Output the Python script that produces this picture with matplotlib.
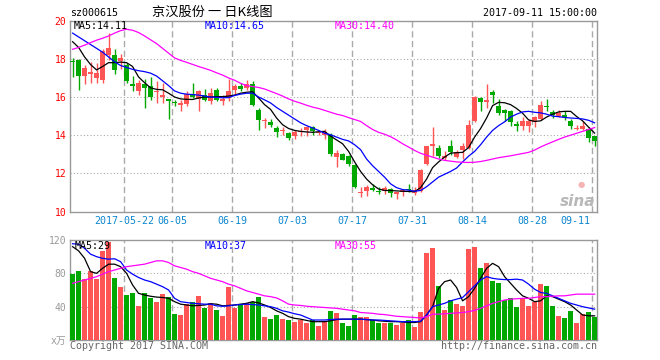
import matplotlib
matplotlib.use('Agg')
import matplotlib.pyplot as plt
import matplotlib.transforms as mtransforms
import numpy as np

# 日K数据 (京汉股份 sz000615)
opens = [17.87, 17.92, 17.10, 17.22, 17.01, 16.89, 18.18, 18.18, 17.87, 17.66,
         16.69, 16.31, 16.66, 16.57, 16.28, 16.00, 15.90, 15.72, 15.57, 15.66,
         16.18, 15.90, 16.13, 15.78, 16.39, 15.78, 15.95, 16.36, 16.57, 16.48,
         16.66, 15.34, 14.75, 14.71, 14.38, 14.20, 14.11, 13.94, 14.18, 14.25,
         14.43, 14.13, 14.03, 14.03, 12.85, 13.01, 12.89, 12.45, 10.97, 11.10,
         11.22, 11.05, 11.10, 11.17, 10.94, 11.04, 11.15, 10.99, 11.10, 12.50,
         13.45, 13.32, 12.78, 13.45, 12.85, 13.20, 13.32, 14.73, 15.96, 15.73,
         16.25, 15.55, 15.31, 15.25, 14.52, 14.50, 14.50, 14.68, 14.85, 15.55,
         15.20, 15.03, 15.08, 14.76, 14.33, 14.33, 14.33, 13.94]
highs = [18.03, 18.00, 17.68, 17.83, 17.80, 18.50, 19.38, 18.53, 18.24, 17.80,
         17.10, 16.89, 16.96, 17.06, 16.83, 16.75, 15.92, 15.83, 15.86, 16.31,
         16.75, 16.39, 16.40, 16.48, 16.45, 16.10, 16.96, 16.66, 16.75, 16.89,
         16.83, 15.43, 14.90, 14.85, 14.46, 14.43, 14.18, 14.29, 14.38, 14.50,
         14.50, 14.29, 14.32, 14.11, 13.20, 13.06, 12.97, 12.50, 11.31, 11.39,
         11.45, 11.31, 11.34, 11.22, 11.04, 11.17, 11.45, 11.27, 12.22, 13.45,
         14.43, 13.50, 13.15, 13.73, 13.20, 13.59, 14.78, 16.05, 16.01, 16.66,
         16.39, 15.90, 15.38, 15.31, 14.73, 14.96, 14.85, 15.03, 15.78, 15.90,
         15.31, 15.31, 15.25, 14.85, 14.55, 14.76, 14.43, 13.97]
lows = [17.04, 16.36, 16.69, 16.75, 16.75, 16.75, 17.94, 17.20, 17.45, 16.71,
        16.31, 16.08, 15.43, 15.83, 15.69, 15.69, 14.85, 15.52, 15.29, 15.52,
        15.95, 15.25, 15.78, 15.66, 15.78, 15.60, 15.78, 16.18, 16.31, 16.39,
        15.52, 14.29, 14.38, 14.43, 13.90, 14.03, 13.73, 13.80, 13.97, 13.97,
        14.03, 14.03, 13.80, 12.89, 12.32, 12.68, 12.39, 11.22, 10.78, 10.83,
        11.10, 10.92, 10.92, 10.78, 10.66, 10.82, 11.00, 10.87, 11.04, 12.45,
        12.92, 12.80, 12.68, 12.97, 12.80, 12.75, 13.27, 14.68, 15.25, 15.43,
        15.70, 15.08, 14.73, 14.47, 14.20, 14.25, 14.15, 14.43, 14.82, 15.25,
        14.90, 14.96, 14.80, 14.33, 14.25, 14.25, 13.62, 13.45]
closes = [17.85, 17.10, 17.50, 17.32, 17.27, 18.39, 18.59, 17.41, 18.06, 16.83,
          16.59, 16.75, 16.45, 16.01, 16.33, 16.08, 15.78, 15.69, 15.69, 16.18,
          16.01, 16.31, 15.87, 16.22, 15.82, 15.90, 16.34, 16.57, 16.43, 16.66,
          15.57, 14.78, 14.82, 14.54, 14.15, 14.25, 13.87, 14.15, 14.22, 14.43,
          14.20, 14.15, 14.18, 13.03, 13.06, 12.71, 12.50, 11.27, 11.00, 11.31,
          11.13, 11.03, 11.24, 10.96, 10.97, 11.13, 11.13, 11.12, 12.19, 13.41,
          13.55, 12.92, 12.92, 13.10, 13.10, 13.41, 14.55, 16.00, 15.73, 15.87,
          16.10, 15.17, 15.17, 14.68, 14.50, 14.73, 14.73, 14.96, 15.60, 15.46,
          15.08, 15.17, 14.96, 14.50, 14.38, 14.50, 13.85, 13.68]

# 价格均线
ma5 = [18.90, 18.60, 18.10, 17.70, 17.42, 17.60, 17.80, 17.80, 17.83, 17.80,
       17.60, 17.05, 16.75, 16.48, 16.40, 16.38, 16.20, 16.00, 15.90, 15.88,
       15.87, 15.95, 16.00, 16.00, 16.02, 16.02, 16.05, 16.10, 16.20, 16.25,
       16.28, 15.95, 15.60, 15.35, 14.90, 14.55, 14.35, 14.25, 14.20, 14.17,
       14.15, 14.18, 14.20, 13.95, 13.75, 13.55, 13.15, 12.60, 12.10, 11.70,
       11.40, 11.18, 11.10, 11.10, 11.08, 11.06, 11.05, 11.04, 11.25, 11.70,
       12.30, 12.60, 12.85, 13.06, 13.08, 13.10, 13.35, 13.90, 14.35, 14.90,
       15.55, 15.72, 15.70, 15.60, 15.40, 15.15, 14.80, 14.72, 14.75, 14.95,
       15.10, 15.22, 15.25, 15.25, 14.98, 14.75, 14.42, 14.11]
ma10 = [19.35, 19.15, 18.95, 18.75, 18.55, 18.35, 18.10, 17.85, 17.65, 17.55,
        17.45, 17.38, 17.33, 17.25, 17.10, 16.85, 16.60, 16.32, 16.20, 16.15,
        16.13, 16.10, 16.05, 16.00, 15.98, 15.96, 15.97, 16.08, 16.15, 16.20,
        16.20, 16.00, 15.85, 15.69, 15.45, 15.25, 15.05, 14.85, 14.65, 14.50,
        14.38, 14.25, 14.10, 14.02, 13.90, 13.78, 13.70, 13.50, 13.24, 12.75,
        12.40, 12.10, 11.80, 11.45, 11.25, 11.15, 11.12, 11.06, 11.10, 11.30,
        11.55, 11.80, 11.95, 12.10, 12.28, 12.60, 12.90, 13.15, 13.50, 13.90,
        14.25, 14.50, 14.70, 14.95, 15.10, 15.22, 15.25, 15.20, 15.17, 15.10,
        15.00, 14.97, 14.93, 14.90, 14.88, 14.85, 14.78, 14.65]
ma30 = [18.50, 18.60, 18.72, 18.85, 18.98, 19.08, 19.20, 19.35, 19.48, 19.55,
        19.50, 19.38, 19.20, 19.00, 18.80, 18.55, 18.30, 18.05, 17.92, 17.82,
        17.71, 17.60, 17.50, 17.40, 17.27, 17.15, 17.00, 16.88, 16.72, 16.60,
        16.55, 16.50, 16.42, 16.30, 16.18, 16.05, 15.90, 15.78, 15.68, 15.57,
        15.47, 15.40, 15.30, 15.20, 15.10, 15.03, 14.92, 14.82, 14.72, 14.50,
        14.30, 14.15, 14.05, 13.92, 13.75, 13.55, 13.38, 13.20, 13.05, 12.95,
        12.85, 12.75, 12.68, 12.64, 12.60, 12.58, 12.57, 12.58, 12.62, 12.68,
        12.75, 12.82, 12.87, 12.92, 12.98, 13.04, 13.10, 13.22, 13.38, 13.52,
        13.65, 13.78, 13.90, 14.00, 14.10, 14.20, 14.30, 14.40]

# 成交量 (万手)
volume = [79.2, 82.8, 72.8, 82.8, 73.2, 106.8, 118.0, 74.8, 64.0, 54.0,
          56.4, 41.2, 56.4, 50.8, 46.0, 55.2, 52.0, 31.2, 30.0, 42.8,
          45.2, 53.2, 38.8, 44.0, 36.0, 29.2, 64.0, 38.8, 42.0, 44.0,
          46.0, 52.0, 28.0, 25.2, 30.0, 25.0, 24.0, 22.0, 24.0, 21.0,
          24.0, 17.0, 23.0, 35.0, 33.0, 21.0, 17.0, 30.0, 28.0, 28.0,
          24.0, 21.0, 21.0, 21.0, 18.0, 20.0, 24.0, 16.0, 34.0, 104.8,
          110.8, 64.8, 36.0, 48.0, 43.2, 41.2, 109.2, 112.0, 86.0, 92.8,
          70.8, 68.8, 48.0, 50.8, 40.0, 50.8, 41.2, 45.2, 67.2, 64.8,
          41.2, 29.2, 26.8, 34.8, 20.8, 30.8, 33.2, 28.0]
vma5 = [112, 107, 98, 82, 80, 86, 91, 91, 88, 80,
        66, 56, 54, 52.5, 51.5, 51, 50, 46, 43, 42,
        41, 41.5, 42, 43.5, 43, 41, 41.5, 42, 43, 44,
        46, 44.5, 42, 39, 35, 32, 28, 26, 25, 23.5,
        22, 22, 22, 23, 24.5, 25, 25, 25, 25, 24.5,
        24, 23, 22.5, 22, 22, 21.5, 21, 21, 22, 30,
        40, 62, 70, 72, 63, 47, 52, 62, 74, 86,
        92, 88, 76, 68, 60, 53, 50, 46, 47, 53,
        52, 49, 46, 42, 36, 30, 29, 29]
vma10 = [115.5, 115, 110, 103, 100, 98, 97, 97.5, 94, 84,
         79, 75, 72, 70, 67, 64, 60, 50, 46, 45,
         44, 43.5, 43, 43, 41, 40.5, 41, 42, 42.5, 43,
         42.5, 42, 41, 40, 38, 35, 33.5, 31.5, 30, 27,
         24, 24, 24, 24.5, 25, 25, 25, 25, 25, 24.5,
         24, 24, 23.5, 23, 22.5, 22, 22, 22, 22.5, 30,
         40, 42, 44, 47, 49, 51, 58, 65, 72, 76,
         74, 73, 72.5, 72.5, 73, 72, 67, 61, 57, 56,
         53, 50, 47, 44, 42, 40, 38.5, 37]
vma30 = [68, 70, 72, 74, 76, 79, 82, 84, 86, 88,
         89, 90, 91, 93, 95, 95, 93, 89, 87, 85,
         82, 80, 77, 74, 72, 70, 67, 65, 62, 59,
         57, 55, 53, 52, 50.5, 47, 43, 42, 41.5, 40.5,
         40, 39.5, 39, 38.5, 38, 37, 36, 35, 33, 32.5,
         32, 31, 30.5, 29.5, 28.5, 28, 27.5, 27, 26.5, 28,
         31, 31, 31.5, 32, 32.5, 33, 34, 35.5, 38, 41,
         44, 46, 48, 49, 49.5, 50, 50, 51, 52, 52,
         52.5, 53, 53, 54, 55, 55, 55, 55]

tick_idx = [9, 17, 27, 37, 47, 57, 67, 77, 87]
tick_labels = ['2017-05-22', '06-05', '06-19', '07-03', '07-17', '07-31', '08-14', '08-28', '09-11']

RED = '#ff5555'
GREEN = '#00a800'
GRID = '#aaaaaa'
plt.rcParams['font.family'] = ['DejaVu Sans Mono', 'Noto Sans CJK SC']

W, H = 660, 360
fig = plt.figure(figsize=(6.6, 3.6), dpi=100)


def box(x0, y0, x1, y1):
    return [x0 / W, 1 - y1 / H, (x1 - x0) / W, (y1 - y0) / H]


def px(x, y):
    return x / W, 1 - y / H


ax = fig.add_axes(box(70.3, 20.7, 597.3, 211.5))
axv = fig.add_axes(box(70.3, 240, 597.3, 340))

x = np.arange(len(closes))
o = np.array(opens)
c = np.array(closes)
col = np.where(c >= o, RED, GREEN)

# K线
ax.vlines(x, lows, highs, colors=col, lw=1.0, zorder=3)
body_lo = np.minimum(o, c)
body_h = np.maximum(np.abs(c - o), 0.06)
ax.bar(x, body_h, 0.8, bottom=body_lo, color=col, linewidth=0, zorder=3)
ax.plot(x, ma5, color='black', lw=0.9, zorder=4)
ax.plot(x, ma10, color='#0000ff', lw=0.9, zorder=4)
ax.plot(x, ma30, color='#ff00ff', lw=0.9, zorder=4)

# 成交量
axv.bar(x, volume, 0.8, color=col, linewidth=0, zorder=3)
axv.plot(x, vma5, color='black', lw=0.9, zorder=4)
axv.plot(x, vma10, color='#0000ff', lw=0.9, zorder=4)
axv.plot(x, vma30, color='#ff00ff', lw=0.9, zorder=4)

for a in (ax, axv):
    a.set_xlim(-0.38, 87.45)
    for t in tick_idx:
        a.axvline(t - 0.4, color=GRID, ls=(0, (4.5, 2.5)), lw=1, zorder=1)
    for s in a.spines.values():
        s.set_color('#999999')
        s.set_linewidth(1)
    a.set_xticks([])
    a.tick_params(axis='y', length=0, pad=3, labelsize=7)

ax.set_ylim(10, 20)
ax.set_yticks([10, 12, 14, 16, 18, 20])
ax.tick_params(axis='y', labelcolor='red')
for yv in [12, 14, 16, 18]:
    ax.axhline(yv, color=GRID, ls=(0, (1, 2)), lw=0.8, zorder=1)

axv.set_ylim(0, 120)
axv.set_yticks([0, 40, 80, 120])
axv.set_yticklabels(['x万', '40', '80', '120'])
axv.tick_params(axis='y', labelcolor='#999999')
for yv in [40, 80]:
    axv.axhline(yv, color=GRID, ls=(0, (1, 2)), lw=0.8, zorder=1)

# 日期标签
trans = mtransforms.blended_transform_factory(ax.transData, ax.transAxes)
for t, lab in zip(tick_idx, tick_labels):
    if t == tick_idx[-1]:
        ax.text(86.25, -0.052, lab, transform=trans, ha='right', va='center',
                color='#0b86d0', fontsize=7.2)
    else:
        ax.text(t - 0.4, -0.052, lab, transform=trans, ha='center', va='center',
                color='#0b86d0', fontsize=7.2)

# 标题与图例文字
fig.text(*px(70, 13), 'sz000615', fontsize=7.2, va='center', ha='left')
fig.text(*px(212, 12), '京汉股份 一 日K线图', fontsize=9.5, va='center', ha='center',
         family=['Noto Sans CJK SC', 'DejaVu Sans Mono'])
fig.text(*px(597, 13), '2017-09-11 15:00:00', fontsize=7.2, va='center', ha='right')

fig.text(*px(74, 26), 'MA5:14.11', fontsize=7.2, va='center', color='black')
fig.text(*px(205, 26), 'MA10:14.65', fontsize=7.2, va='center', color='#0000ff')
fig.text(*px(335, 26), 'MA30:14.40', fontsize=7.2, va='center', color='#ff00ff')

fig.text(*px(75, 246), 'MA5:29', fontsize=7.2, va='center', color='black')
fig.text(*px(205, 246), 'MA10:37', fontsize=7.2, va='center', color='#0000ff')
fig.text(*px(335, 246), 'MA30:55', fontsize=7.2, va='center', color='#ff00ff')

fig.text(*px(70, 346), 'Copyright 2017 SINA.COM', fontsize=7.2, va='center', color='#666666')
fig.text(*px(597, 346), 'http://finance.sina.com.cn', fontsize=7.2, va='center', ha='right',
         color='#666666')

# 水印
fig.text(*px(595, 201), 'sina', fontsize=11, va='center', ha='right', color='#b8b8b8',
         style='italic', weight='bold', family='DejaVu Sans')
fig.text(*px(581, 184), '●', fontsize=6, va='center', ha='center', color='#f4a0a0',
         family='DejaVu Sans', alpha=0.8)

fig.savefig('out.png', dpi=100)
